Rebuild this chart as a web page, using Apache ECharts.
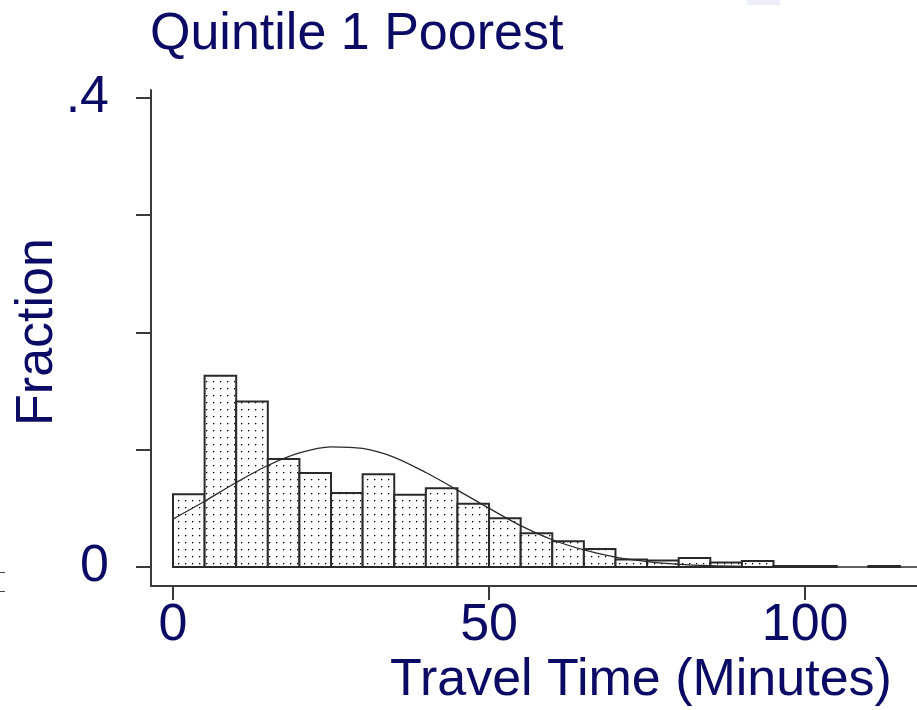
<!DOCTYPE html>
<html><head><meta charset="utf-8">
<script src="https://cdn.jsdelivr.net/npm/echarts@6/dist/echarts.min.js"></script>
<style>html,body{margin:0;padding:0;background:#fff}#c{width:917px;height:710px}</style>
</head><body><div id="c"></div>
<script>
// ---- data ----
const titleText = 'Quintile 1 Poorest';
const xAxisTitle = 'Travel Time (Minutes)';
const yAxisTitle = 'Fraction';
const binWidth = 5;
const binStart = [0,5,10,15,20,25,30,35,40,45,50,55,60,65,70,75,80,85,90,95,100,105,110];
const fraction = [0.062,0.163,0.141,0.092,0.080,0.063,0.079,0.0615,0.067,0.054,0.0416,0.0288,0.022,0.0154,0.0063,0.0055,0.0077,0.0038,0.0051,0.0008,0.0008,0,0.0008];
const curveX = [0,5,10,15,20,25,30,35,40,45,50,55,60,65,70,75,80,85,90,95,100,105,110,117.7];
const curveY = [0.0408,0.0560,0.0720,0.0865,0.0972,0.1024,0.1010,0.0935,0.0805,0.0655,0.0500,0.0352,0.0232,0.0145,0.0084,0.0046,0.0023,0.0011,0.0005,0.0002,0.0001,0,0,0];
const xTickValues = [0,50,100];
const yTickValues = [0,0.1,0.2,0.3,0.4];
const yLabelValues = [0,0.4];
const yLabelText = ['0','.4'];

const navy = '#0b0b66';
const axisGray = '#3a3a3a';
const FONT = '"Liberation Sans", Arial, sans-serif';

// dotted fill pattern
const pc = document.createElement('canvas');
pc.width = 7; pc.height = 7;
const pctx = pc.getContext('2d');
pctx.fillStyle = '#ffffff'; pctx.fillRect(0,0,7,7);
pctx.fillStyle = '#aaaaaa'; pctx.fillRect(4,3,1,1); pctx.fillRect(3,4,1,1);
pctx.fillStyle = '#000000'; pctx.fillRect(3,3,1,1);
const dotPattern = {image: pc, repeat: 'repeat'};

const histData = binStart.map((s,i) => [s, s + binWidth, fraction[i]]);
const curveData = curveX.map((x,i) => [x, curveY[i]]);

const chart = echarts.init(document.getElementById('c'), null, {renderer: 'canvas'});
chart.setOption({
  backgroundColor: '#ffffff',
  animation: false,
  grid: {left: 151, right: 0, top: 90, bottom: 124, containLabel: false, outerBoundsMode: 'none'},
  xAxis: {
    type: 'value', min: -3.48, max: 117.7,
    splitLine: {show: false},
    axisLine: {show: true, onZero: false, lineStyle: {color: axisGray, width: 2}},
    axisTick: {show: true, customValues: xTickValues, length: 14, lineStyle: {color: axisGray, width: 2}},
    axisLabel: {customValues: xTickValues, color: navy, fontSize: 52, fontFamily: FONT, margin: 14}
  },
  yAxis: {
    type: 'value', min: -0.0162, max: 0.4065,
    splitLine: {show: false},
    axisLine: {show: true, onZero: false, lineStyle: {color: axisGray, width: 2}},
    axisTick: {show: true, customValues: yTickValues, length: 15, lineStyle: {color: axisGray, width: 2}},
    axisLabel: {customValues: yLabelValues, color: navy, fontSize: 52, fontFamily: FONT, margin: 42,
      padding: [6, 0, 0, 0],
      formatter: v => yLabelText[yLabelValues.findIndex(t => Math.abs(t - v) < 1e-9)] }
  },
  series: [
    {
      type: 'custom',
      data: histData,
      encode: {x: [0,1], y: 2},
      z: 2,
      renderItem: function (params, api) {
        const x0 = api.value(0), x1 = api.value(1), v = api.value(2);
        if (!v) return null;
        const p0 = api.coord([x0, v]);
        const p1 = api.coord([x1, 0]);
        return {
          type: 'rect',
          shape: {x: p0[0], y: p0[1], width: p1[0] - p0[0], height: p1[1] - p0[1]},
          style: {fill: dotPattern, stroke: '#2a2a2a', lineWidth: 2}
        };
      }
    },
    {
      type: 'line',
      data: curveData,
      smooth: 0.3,
      symbol: 'none',
      z: 3,
      lineStyle: {color: '#2a2a2a', width: 1.3}
    }
  ],
  graphic: [
    {type: 'text', left: 150, top: 9, style: {text: titleText, fill: navy, font: '52px ' + FONT}},
    {type: 'text', x: 38, y: 332, rotation: Math.PI/2,
      style: {text: yAxisTitle, fill: navy, font: '52px ' + FONT, textAlign: 'center', textVerticalAlign: 'middle'}},
    {type: 'text', x: 641, y: 681,
      style: {text: xAxisTitle, fill: navy, font: '52px ' + FONT, textAlign: 'center', textVerticalAlign: 'middle'}},
    {type: 'line', shape: {x1: 0, y1: 572.5, x2: 5, y2: 572.5}, style: {stroke: '#444', lineWidth: 1}},
    {type: 'line', shape: {x1: 0, y1: 591.5, x2: 5, y2: 591.5}, style: {stroke: '#444', lineWidth: 1}},
    {type: 'rect', shape: {x: 747, y: 0, width: 33, height: 5}, style: {fill: '#eeeefa'}}
  ]
});
</script>
</body></html>
